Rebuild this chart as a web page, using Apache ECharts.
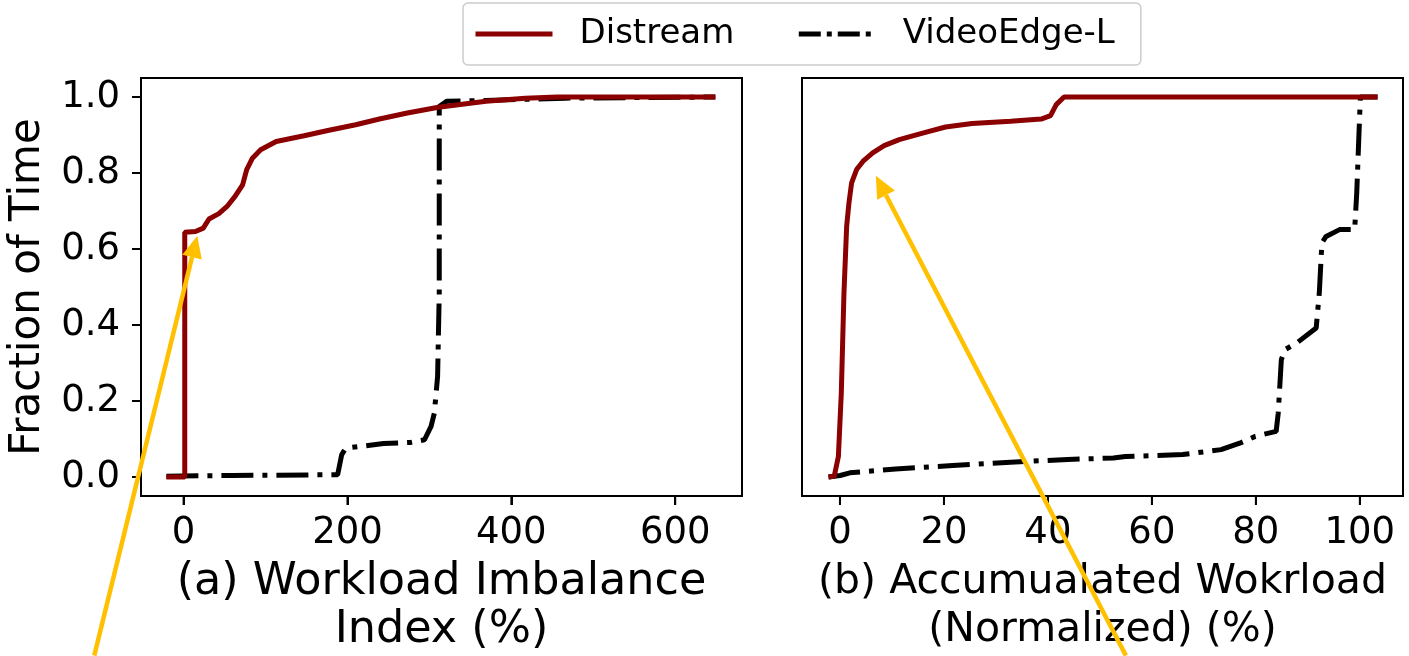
<!DOCTYPE html>
<html><head><meta charset="utf-8">
<script src="https://cdn.jsdelivr.net/npm/echarts@6/dist/echarts.min.js"></script>
<style>html,body{margin:0;padding:0;background:#fff}#c{width:1409px;height:656px}</style>
</head><body><div id="c"></div><script>
// ---------- data ----------
const seriesNames = ['Distream', 'VideoEdge-L'];
const yTicks = [0, 0.2, 0.4, 0.6, 0.8, 1.0];
const xTicksA = [0, 200, 400, 600];
const xTicksB = [0, 20, 40, 60, 80, 100];
const xNameA = '(a) Workload Imbalance\nIndex (%)';
const xNameB = '(b) Accumualated Wokrload\n(Normalized) (%)';
const yName = 'Fraction of Time';

// (a) Workload Imbalance Index
const distreamA = [[-21,0],[1.4,0],[1.4,0.644],[14.5,0.646],[24,0.655],[31,0.679],[43,0.693],[53,0.712],[63,0.739],[72,0.769],[77,0.809],[84,0.839],[94,0.861],[113,0.883],[147,0.898],[176,0.912],[210,0.927],[239,0.942],[273,0.958],[311,0.973],[369,0.989],[417,0.997],[456,1.0],[649,1.0]];
const videoEdgeA = [[-21,0.002],[60,0.004],[188,0.006],[193,0.059],[198,0.076],[244,0.088],[277,0.091],[294,0.098],[302,0.133],[306,0.168],[310,0.265],[312,0.484],[312,0.975],[321,0.989],[369,0.991],[466,0.997],[649,1.0]];

// (b) Accumulated Workload (Normalized)
const distreamB = [[-2.2,0],[-1.1,0.002],[-0.3,0.054],[0.26,0.221],[0.77,0.484],[1.29,0.66],[1.73,0.721],[2.24,0.774],[3.2,0.809],[4.45,0.831],[6.3,0.853],[8.5,0.872],[11.4,0.888],[15.9,0.905],[20.3,0.921],[25.4,0.93],[32.8,0.936],[38.7,0.942],[40.5,0.951],[41.6,0.98],[43.1,1.0],[103.4,1.0]];
const videoEdgeB = [[-2.2,0],[0.04,0.004],[1.9,0.011],[10.7,0.021],[21.7,0.03],[32.8,0.039],[43.8,0.046],[52.6,0.05],[54.9,0.054],[65.9,0.059],[73.3,0.072],[76.9,0.089],[79.9,0.107],[83.9,0.12],[84.3,0.168],[84.9,0.309],[85.6,0.335],[87.9,0.353],[91.6,0.392],[92.2,0.484],[92.7,0.616],[93.5,0.633],[96.1,0.651],[99.0,0.651],[99.4,0.747],[100.1,1.0],[103.4,1.0]];

// annotation arrows: [tail, tip] in data coordinates of each panel
const arrowA = [[-109,-0.47],[16.7,0.635]];
const arrowB = [[55,-0.47],[6.9,0.793]];

// ---------- chart ----------
const FONT = 'DejaVu Sans';
const RED = '#8b0000';
const DASHDOT = [32, 9, 5, 9];
const X_RANGE = [[-52, 681.5], [-7.3, 108.3]];
const Y_RANGE = [-0.05, 1.05];
const TICK_LEN = 9;

function xAxisCfg(gi, ticks, name, nameSize) {
  return {
    type: 'value', gridIndex: gi, min: X_RANGE[gi][0], max: X_RANGE[gi][1],
    name: name, nameLocation: 'middle', nameGap: 62,
    nameTextStyle: {fontFamily: FONT, fontSize: nameSize, color: '#000', lineHeight: 48},
    axisLine: {show: true, onZero: false, lineStyle: {color: '#000', width: 2}},
    axisTick: {show: true, inside: false, length: TICK_LEN, lineStyle: {color: '#000', width: 2}, customValues: ticks},
    axisLabel: {show: true, margin: 19, fontFamily: FONT, fontSize: 37, color: '#000', customValues: ticks,
      formatter: v => String(v)},
    splitLine: {show: false}
  };
}
function yAxisCfg(gi, showLabels) {
  return {
    type: 'value', gridIndex: gi, min: Y_RANGE[0], max: Y_RANGE[1],
    name: showLabels ? yName : '', nameLocation: 'middle', nameGap: 92,
    nameTextStyle: {fontFamily: FONT, fontSize: 42, color: '#000'},
    axisLine: {show: true, onZero: false, lineStyle: {color: '#000', width: 2}},
    axisTick: {show: showLabels, inside: false, length: TICK_LEN, lineStyle: {color: '#000', width: 2}, customValues: yTicks},
    axisLabel: {show: showLabels, margin: 21, fontFamily: FONT, fontSize: 37, color: '#000', customValues: yTicks,
      formatter: v => v.toFixed(1)},
    splitLine: {show: false}
  };
}
function lineSeries(name, data, gi) {
  const isRed = name === seriesNames[0];
  return {
    name: name, type: 'line', xAxisIndex: gi, yAxisIndex: gi, data: data,
    symbol: 'none', showSymbol: false, smooth: false, animation: false,
    lineStyle: isRed ? {color: RED, width: 5} : {color: '#000', width: 5, type: DASHDOT, cap: 'butt'},
    itemStyle: {color: isRed ? RED : '#000'},
    z: isRed ? 3 : 2
  };
}
function gridCfg(left) {
  return {left: left, top: 78, width: 601, height: 418, show: true, borderColor: '#000', borderWidth: 2,
    backgroundColor: 'transparent', containLabel: false, outerBoundsMode: 'none'};
}

const option = {
  animation: false,
  backgroundColor: '#fff',
  legend: {
    left: 463, top: 3, orient: 'horizontal',
    padding: [10, 26, 10, 10],
    itemWidth: 77, itemHeight: 20, itemGap: 62,
    borderColor: '#cccccc', borderWidth: 1.5, borderRadius: 5, backgroundColor: '#fff',
    lineStyle: {width: 5},
    itemStyle: {opacity: 0, borderWidth: 0},
    textStyle: {fontFamily: FONT, fontSize: 34, color: '#000', lineHeight: 42, padding: [0, 0, 0, 22]},
    data: [
      {name: seriesNames[0]},
      {name: seriesNames[1], lineStyle: {type: [22, 6, 5, 6]}}
    ]
  },
  grid: [gridCfg(141), gridCfg(802)],
  xAxis: [
    xAxisCfg(0, xTicksA, xNameA, 44.5),
    xAxisCfg(1, xTicksB, xNameB, 41)
  ],
  yAxis: [yAxisCfg(0, true), yAxisCfg(1, false)],
  series: [
    lineSeries(seriesNames[1], videoEdgeA, 0),
    lineSeries(seriesNames[0], distreamA, 0),
    lineSeries(seriesNames[1], videoEdgeB, 1),
    lineSeries(seriesNames[0], distreamB, 1)
  ]
};

const dom = document.getElementById('c');
// first pass: lay out once to map data coordinates to pixels
const helper = echarts.init(dom, null, {renderer: 'canvas'});
helper.setOption(option);
const toPx = (gi, pt) => helper.convertToPixel({gridIndex: gi}, pt);

function arrowGraphics(arrow, gi) {
  const p0 = toPx(gi, arrow[0]);
  const p1 = toPx(gi, arrow[1]);
  const dx = p1[0] - p0[0], dy = p1[1] - p0[1];
  const len = Math.sqrt(dx * dx + dy * dy);
  const ux = dx / len, uy = dy / len;
  const headLen = 22, headHalf = 10;
  const bx = p1[0] - ux * headLen, by = p1[1] - uy * headLen;
  const color = '#ffc000';
  return [
    {type: 'polyline', z: 100, silent: true, shape: {points: [p0, [bx, by]]}, style: {stroke: color, lineWidth: 4.5, fill: null}},
    {type: 'polygon', z: 100, silent: true, shape: {points: [p1, [bx - uy * headHalf, by + ux * headHalf], [bx + uy * headHalf, by - ux * headHalf]]}, style: {fill: color}}
  ];
}
// tick marks placed through the axes' scales (outward from the frame)
function tickGraphics() {
  const els = [];
  [xTicksA, xTicksB].forEach((ticks, gi) => {
    ticks.forEach(v => {
      const p = toPx(gi, [v, Y_RANGE[0]]);
      els.push({type: 'polyline', z: 90, silent: true,
        shape: {points: [[p[0], p[1]], [p[0], p[1] + TICK_LEN]]},
        style: {stroke: '#000', lineWidth: 2, fill: null}});
    });
  });
  yTicks.forEach(v => {
    const p = toPx(0, [X_RANGE[0][0], v]);
    els.push({type: 'polyline', z: 90, silent: true,
      shape: {points: [[p[0] - TICK_LEN, p[1]], [p[0], p[1]]]},
      style: {stroke: '#000', lineWidth: 2, fill: null}});
  });
  return els;
}
const graphics = arrowGraphics(arrowA, 0).concat(arrowGraphics(arrowB, 1)).concat(tickGraphics());
helper.dispose();

// final render in a single setOption
const chart = echarts.init(dom, null, {renderer: 'canvas'});
option.graphic = graphics;
chart.setOption(option);
</script></body></html>
